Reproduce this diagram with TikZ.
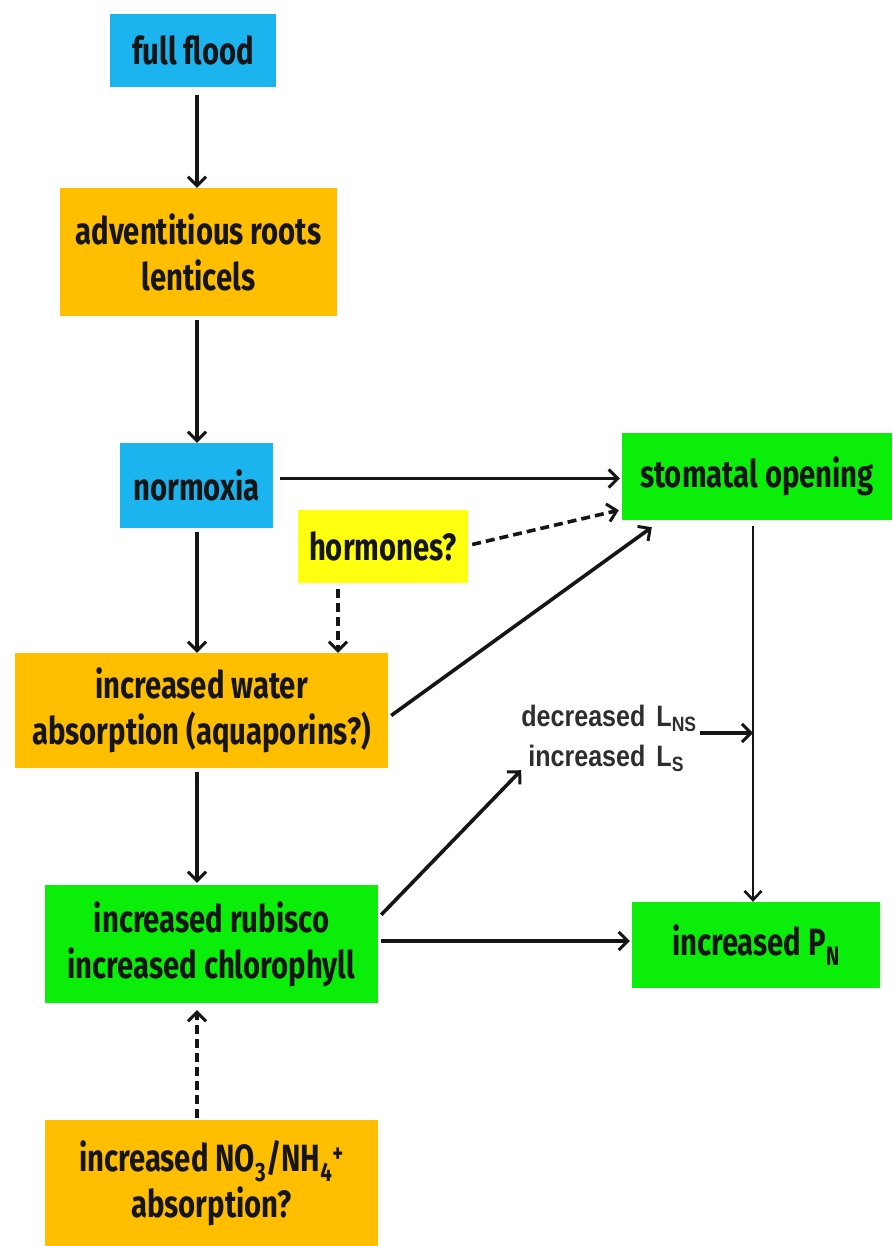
\documentclass[tikz,border=0pt]{standalone}
\usepackage{fontspec}
\usetikzlibrary{arrows.meta,calc}
\newfontfamily\boxfont{Fira Sans}[FakeStretch=0.77]
\newfontfamily\narrowfont{Liberation Sans}[FakeStretch=0.85]
\definecolor{floodblue}{HTML}{1CB4EE}
\definecolor{rootorange}{HTML}{FFBF00}
\definecolor{leafgreen}{HTML}{0AEE0A}
\definecolor{hormyellow}{HTML}{FFFF10}
\definecolor{inkblack}{HTML}{151515}
\definecolor{inkgray}{HTML}{2E2E2E}
\tikzset{
  stage/.style={draw=none, inner sep=0pt, align=center, text=inkblack,
    font=\boxfont\bfseries\fontsize{38}{46}\selectfont},
  arr/.style={draw=inkblack, line width=3.6pt,
    -{Straight Barb[length=9pt,width=18pt,line width=3pt]}},
  darr/.style={arr, dash pattern=on 9pt off 5pt},
  thinline/.style={draw=inkblack, line width=2.6pt}
}
\begin{document}
\begin{tikzpicture}[x=1pt,y=-1pt]
\useasboundingbox (0,0) rectangle (892,1246);
\fill[white] (0,0) rectangle (892,1246);

% boxes
\node[stage, fill=floodblue, minimum width=166pt, minimum height=73pt] (flood) at (193,50.5) {full flood};
\node[stage, fill=rootorange, minimum width=277pt, minimum height=128pt] (roots) at (198.5,252) {adventitious roots\\lenticels};
\node[stage, fill=floodblue, minimum width=153pt, minimum height=85pt] (normoxia) at (196.5,485.5) {normoxia};
\node[stage, fill=hormyellow, minimum width=170pt, minimum height=73pt] (hormones) at (383,546.5) {hormones?};
\node[stage, fill=rootorange, minimum width=373pt, minimum height=115pt] (water) at (201.5,710.5) {increased water\\absorption (aquaporins?)};
\node[stage, fill=leafgreen, minimum width=270pt, minimum height=87pt] (stomatal) at (757,476.5) {stomatal opening};
\node[stage, fill=leafgreen, minimum width=333pt, minimum height=118pt] (rubisco) at (211.5,944) {increased rubisco\\increased chlorophyll};
\node[stage, fill=leafgreen, minimum width=248pt, minimum height=86pt] (pn) at (756,945) {increased P\textsubscript{N}};
\node[stage, fill=rootorange, minimum width=333pt, minimum height=126pt, anchor=north] (nitro) at (211.5,1120) {increased NO\textsubscript{3}/NH\textsubscript{4}\textsuperscript{+}\\absorption?};

% leaf conductance label
\node[inner sep=0pt, text=inkgray, font=\narrowfont\bfseries\fontsize{29.5}{40}\selectfont] (lparam) at (609,738)
  {\begin{tabular}{@{}r@{\hspace{11pt}}l@{}}decreased & L\textsubscript{NS}\\ increased & L\textsubscript{S}\end{tabular}};

% vertical spine of the left column
\coordinate (spine) at ([xshift=4pt]flood.south);

% connectors
\draw[arr] ([yshift=-8pt]spine) -- (spine |- roots.north);
\draw[arr] ([yshift=-4pt]spine |- roots.south) -- (spine |- normoxia.north);
\draw[arr] ([shift={(7pt,7pt)}]normoxia.east) -- ([shift={(-2pt,7pt)}]normoxia.east -| stomatal.west);
\draw[darr] ([xshift=4pt,yshift=2pt]hormones.east) -- ([shift={(-3pt,10pt)}]stomatal.south west);
\draw[arr] ([shift={(3pt,-5pt)}]water.east) -- ([shift={(30pt,-7pt)}]stomatal.south west);
\draw[arr] ([yshift=-4pt]spine |- normoxia.south) -- (spine |- water.north);
\draw[darr] ([shift={(-45pt,-6pt)}]hormones.south) -- ([xshift=-45pt]hormones.south |- water.north);
\draw[arr] ([yshift=-4pt]spine |- water.south) -- ([yshift=2pt]spine |- rubisco.north);
\draw[arr] ([shift={(3pt,-30pt)}]rubisco.north east) -- ([shift={(0pt,8pt)}]lparam.south west);
\draw[arr] ([shift={(3pt,3pt)}]rubisco.east) -- ([shift={(-2pt,3pt)}]rubisco.east -| pn.west);
\draw[thinline, -{Straight Barb[length=9pt,width=17pt,line width=2.6pt]}] ([shift={(-4pt,-6pt)}]stomatal.south) coordinate (drop) -- (drop |- pn.north);
\coordinate (join) at ($(drop |- lparam.east) + (0,5pt)$);
\draw[arr] ([shift={(3pt,5pt)}]lparam.east) -- (join);
\draw[darr] ([yshift=2pt]spine |- nitro.north) -- ([yshift=-7pt]spine |- rubisco.south);
\end{tikzpicture}
\end{document}
